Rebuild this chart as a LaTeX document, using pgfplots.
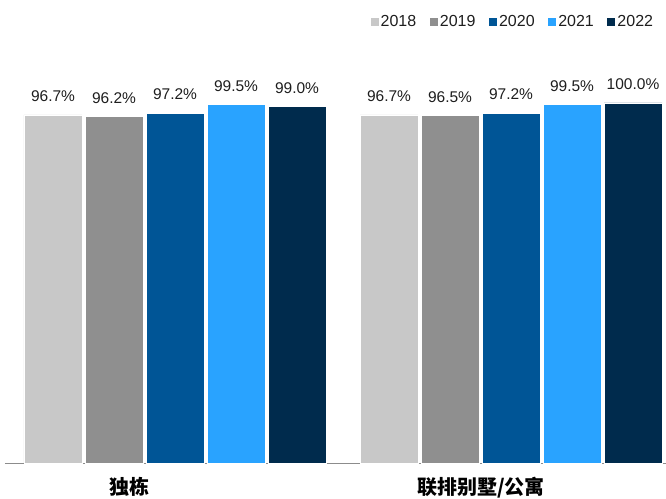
\documentclass[border=0pt]{standalone}
\usepackage{fontspec}
\setmainfont{Liberation Sans}
\newfontfamily\cjk{Noto Sans CJK SC}
\usepackage{pgfplots}
\pgfplotsset{compat=1.18}
\definecolor{c18}{RGB}{200,200,200}
\definecolor{c19}{RGB}{143,143,143}
\definecolor{c20}{RGB}{0,85,150}
\definecolor{c21}{RGB}{41,163,255}
\definecolor{c22}{RGB}{0,43,77}
\definecolor{txt}{RGB}{30,30,30}
\begin{document}
\begin{tikzpicture}
\begin{axis}[
  scale only axis, width=661pt, height=463pt,
  xmin=5, xmax=666, ymin=0, ymax=128.611,
  ybar=3pt, bar width=58pt,
  axis x line=bottom, axis y line=none,
  axis line style={-, draw=gray!90, line width=0.8pt},
  xtick={129,481}, xticklabels={独栋,联排别墅/公寓},
  major tick length=0pt,
  xticklabel style={font=\cjk\bfseries\fontsize{20}{20}\selectfont, text=black, yshift=-11pt},
  nodes near coords={\pgfmathprintnumber[fixed,fixed zerofill,precision=1,assume math mode=true]{\pgfplotspointmeta}\%},
  every node near coord/.append style={font=\fontsize{15.5}{15.5}\selectfont, text=txt, anchor=south, inner sep=0pt, yshift=13pt},
  legend columns=5,
  legend style={at={(rel axis cs:0.983,0.9525)}, anchor=east, draw=none, fill=none, inner sep=0pt,
    font=\fontsize{16}{16}\selectfont, text=txt,
    /tikz/every even column/.append style={column sep=11pt},
    nodes={inner sep=1.5pt}},
  legend image code/.code={\fill[#1] (0pt,-4.5pt) rectangle (9pt,4.5pt);},
  clip=false,
]
\addplot[fill=c18, draw=white, line width=0.6pt] coordinates {(175,96.7) (511,96.7)};
\addplot[fill=c19, draw=white, line width=0.6pt] coordinates {(175,96.2) (511,96.5)};
\addplot[fill=c20, draw=white, line width=0.6pt] coordinates {(175,97.2) (511,97.2)};
\addplot[fill=c21, draw=white, line width=0.6pt] coordinates {(175,99.5) (511,99.5)};
\addplot[fill=c22, draw=white, line width=0.6pt] coordinates {(175,99.0) (511,100.0)};
\legend{2018,2019,2020,2021,2022}
\end{axis}
\pgfresetboundingbox
\path (current axis.south west) ++(-5pt,-35pt) rectangle (current axis.north east);
\end{tikzpicture}
\end{document}
